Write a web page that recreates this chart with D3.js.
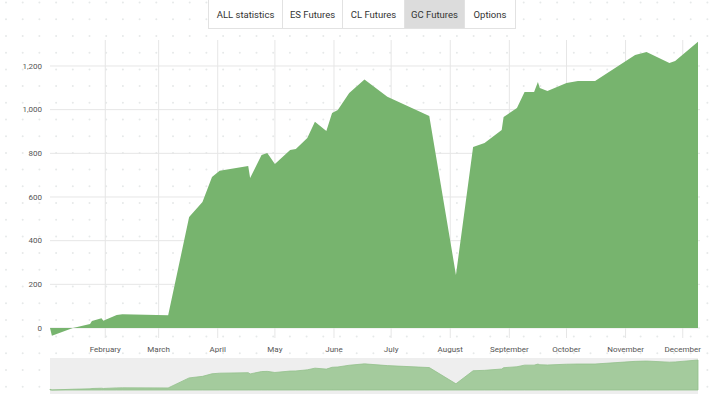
<!DOCTYPE html>
<html>
<head>
<meta charset="utf-8">
<script src="https://cdn.jsdelivr.net/npm/d3@7"></script>
<style>
  html, body { margin: 0; padding: 0; background: #fff; }
  svg { display: block; font-family: Roboto, "Noto Sans", sans-serif; }
</style>
</head>
<body>
<svg id="chart" width="720" height="394"></svg>
<script>
const tabs = ['ALL statistics', 'ES Futures', 'CL Futures', 'GC Futures', 'Options']
const activeTab = 'GC Futures'

const dates = [
  '2019-01-03', '2019-01-04', '2019-01-15', '2019-01-24', '2019-01-25', '2019-01-30',
  '2019-01-31', '2019-02-03', '2019-02-07', '2019-02-10', '2019-03-06', '2019-03-17',
  '2019-03-24', '2019-03-29', '2019-04-02', '2019-04-17', '2019-04-18', '2019-04-24',
  '2019-04-27', '2019-05-01', '2019-05-09', '2019-05-12', '2019-05-18', '2019-05-22',
  '2019-05-28', '2019-05-31', '2019-06-03', '2019-06-09', '2019-06-17', '2019-06-29',
  '2019-07-21', '2019-08-04', '2019-08-13', '2019-08-19', '2019-08-28', '2019-08-29',
  '2019-09-05', '2019-09-09', '2019-09-14', '2019-09-16', '2019-09-17', '2019-09-21',
  '2019-10-01', '2019-10-07', '2019-10-16', '2019-11-06', '2019-11-12', '2019-11-24',
  '2019-11-27', '2019-12-09'
]
const values = [
  0, -35, 0, 18, 32, 45,
  33, 45, 60, 63, 58, 508,
  577, 692, 720, 742, 687, 792,
  801, 751, 815, 820, 870, 945,
  902, 985, 998, 1076, 1138, 1059,
  971, 243, 829, 847, 907, 966,
  1008, 1081, 1081, 1127, 1099, 1086,
  1122, 1131, 1131, 1250, 1264, 1214,
  1223, 1311
]
const yTicks = [0, 200, 400, 600, 800, 1000, 1200]

const parse = d3.timeParse('%Y-%m-%d')
const data = dates.map((d, i) => ({ date: parse(d), value: values[i] }))

const svg = d3.select('#chart')
const W = 720, H = 394
const m = { left: 50, right: 698, top: 40, bottom: 338 }

// background dot pattern
const dots = svg.append('g')
for (let gx = 6; gx < W; gx += 16.7) {
  for (let gy = 2.6; gy < H; gy += 16.7) {
    dots.append('circle').attr('cx', gx).attr('cy', gy).attr('r', 1).attr('fill', '#e6e9e9')
  }
}

const x = d3.scaleTime().domain(d3.extent(data, (d) => d.date)).range([m.left, m.right])
const y = d3.scaleLinear().domain([-45.8, 1319]).range([m.bottom, m.top])

// grid
const months = d3.timeMonth.range(new Date(2019, 1, 1), new Date(2019, 11, 2))
svg.append('g')
  .selectAll('line')
  .data(months)
  .join('line')
  .attr('x1', (d) => x(d)).attr('x2', (d) => x(d))
  .attr('y1', m.top).attr('y2', m.bottom)
  .attr('stroke', '#e6e6e6')

svg.append('g')
  .selectAll('line')
  .data(yTicks)
  .join('line')
  .attr('x1', m.left).attr('x2', 700)
  .attr('y1', (d) => y(d)).attr('y2', (d) => y(d))
  .attr('stroke', '#e6e6e6')

// area
const area = d3.area()
  .x((d) => x(d.date))
  .y0(y(0))
  .y1((d) => y(d.value))

svg.append('path')
  .datum(data)
  .attr('d', area)
  .attr('fill', '#77b46e')

// axis labels
svg.append('g')
  .selectAll('text')
  .data(yTicks)
  .join('text')
  .attr('x', 42)
  .attr('y', (d) => y(d))
  .attr('dy', '0.35em')
  .attr('text-anchor', 'end')
  .attr('font-size', 8)
  .attr('fill', '#555')
  .text((d) => d3.format(',')(d))

svg.append('g')
  .selectAll('text')
  .data(months)
  .join('text')
  .attr('x', (d) => x(d))
  .attr('y', 352)
  .attr('text-anchor', 'middle')
  .attr('font-size', 8)
  .attr('fill', '#555')
  .text((d) => d3.timeFormat('%B')(d))

// navigator
const navTop = 358, navBottom = 394
svg.append('rect')
  .attr('x', m.left).attr('y', navTop)
  .attr('width', m.right - m.left).attr('height', navBottom - navTop)
  .attr('fill', '#eeeeee')

const yNav = d3.scaleLinear().domain(d3.extent(values)).range([390, 360])
const navArea = d3.area()
  .x((d) => x(d.date))
  .y0(390)
  .y1((d) => yNav(d.value))

svg.append('path')
  .datum(data)
  .attr('d', navArea)
  .attr('fill', '#a4cb9d')
  .attr('stroke', '#93c08b')
  .attr('stroke-width', 0.8)

// tabs
const tabW = [74, 60, 62, 60, 51]
let tx = 208
const tabG = svg.append('g')
tabs.forEach((t, i) => {
  tabG.append('rect')
    .attr('x', tx + 0.5).attr('y', -1)
    .attr('width', tabW[i]).attr('height', 29.5)
    .attr('fill', t === activeTab ? '#dcdcdc' : '#fff')
    .attr('stroke', '#e2e2e2')
  tabG.append('text')
    .attr('x', tx + tabW[i] / 2 + 0.5)
    .attr('y', 17.5)
    .attr('text-anchor', 'middle')
    .attr('font-size', 9.5)
    .attr('fill', '#333')
    .text(t)
  tx += tabW[i]
})
</script>
</body>
</html>
